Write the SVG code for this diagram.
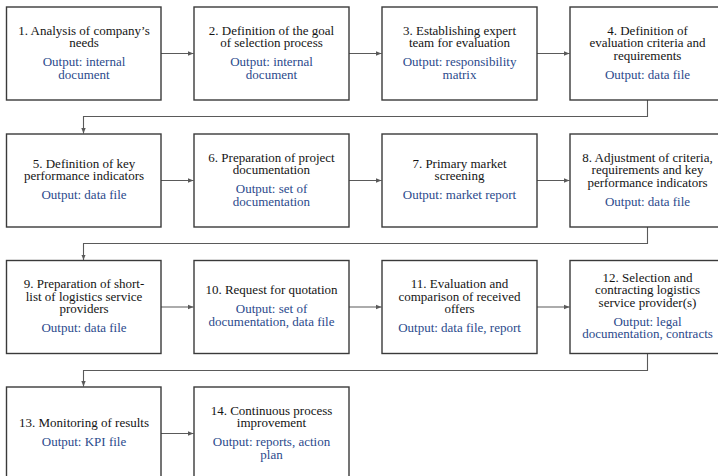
<svg xmlns="http://www.w3.org/2000/svg" width="718" height="476" viewBox="0 0 718 476">
<style>
.box{fill:#fff;stroke:#3a3a3a;stroke-width:1.4}
.t{font-family:"Liberation Serif","Times New Roman",serif;font-size:13px;text-anchor:middle;fill:#141414}
.o{fill:#2b4a8c}
.c{fill:none;stroke:#5a5a5a;stroke-width:1.1}
</style>
<defs>
<marker id="ah" markerWidth="6" markerHeight="6" refX="5.5" refY="3" orient="auto" markerUnits="userSpaceOnUse">
<path d="M0,0.8 L5.5,3 L0,5.2 z" fill="#5a5a5a"/>
</marker>
</defs>
<rect width="718" height="476" fill="#fff"/>
<g id="connectors">
<path class="c" d="M161,53.5 H193.5" marker-end="url(#ah)"/>
<path class="c" d="M349,53.5 H381.5" marker-end="url(#ah)"/>
<path class="c" d="M537,53.5 H569.5" marker-end="url(#ah)"/>
<path class="c" d="M647.5,100 V116.5 H83.5 V133.5" marker-end="url(#ah)"/>
<path class="c" d="M161,180.5 H193.5" marker-end="url(#ah)"/>
<path class="c" d="M349,180.5 H381.5" marker-end="url(#ah)"/>
<path class="c" d="M537,180.5 H569.5" marker-end="url(#ah)"/>
<path class="c" d="M647.5,227 V243.5 H83.5 V260" marker-end="url(#ah)"/>
<path class="c" d="M161,307 H193.5" marker-end="url(#ah)"/>
<path class="c" d="M349,307 H381.5" marker-end="url(#ah)"/>
<path class="c" d="M537,307 H569.5" marker-end="url(#ah)"/>
<path class="c" d="M647.5,353.5 V370.5 H83.5 V386.5" marker-end="url(#ah)"/>
<path class="c" d="M161,433.5 H193.5" marker-end="url(#ah)"/>
</g>
<g id="n1"><rect class="box" x="6.5" y="7" width="154.5" height="93"/>
<text class="t" x="84"><tspan x="84" y="34.5">1. Analysis of company’s</tspan><tspan x="84" y="47">needs</tspan><tspan class="o" x="84" y="66">Output: internal</tspan><tspan class="o" x="84" y="78.5">document</tspan></text></g>
<g id="n2"><rect class="box" x="194" y="7" width="155" height="93"/>
<text class="t" x="271.5"><tspan x="271.5" y="34.5">2. Definition of the goal</tspan><tspan x="271.5" y="47">of selection process</tspan><tspan class="o" x="271.5" y="66">Output: internal</tspan><tspan class="o" x="271.5" y="78.5">document</tspan></text></g>
<g id="n3"><rect class="box" x="382" y="7" width="155" height="93"/>
<text class="t"><tspan x="459.5" y="34.5">3. Establishing expert</tspan><tspan x="459.5" y="47">team for evaluation</tspan><tspan class="o" x="459.5" y="66">Output: responsibility</tspan><tspan class="o" x="459.5" y="78.5">matrix</tspan></text></g>
<g id="n4"><rect class="box" x="570" y="7" width="155" height="93"/>
<text class="t"><tspan x="647.5" y="34.5">4. Definition of</tspan><tspan x="647.5" y="47">evaluation criteria and</tspan><tspan x="647.5" y="59.5">requirements</tspan><tspan class="o" x="647.5" y="78.5">Output: data file</tspan></text></g>
<g id="n5"><rect class="box" x="6.5" y="134" width="154.5" height="93"/>
<text class="t"><tspan x="84" y="167.75">5. Definition of key</tspan><tspan x="84" y="180.25">performance indicators</tspan><tspan class="o" x="84" y="199.25">Output: data file</tspan></text></g>
<g id="n6"><rect class="box" x="194" y="134" width="155" height="93"/>
<text class="t"><tspan x="271.5" y="161.5">6. Preparation of project</tspan><tspan x="271.5" y="174">documentation</tspan><tspan class="o" x="271.5" y="193">Output: set of</tspan><tspan class="o" x="271.5" y="205.5">documentation</tspan></text></g>
<g id="n7"><rect class="box" x="382" y="134" width="155" height="93"/>
<text class="t"><tspan x="459.5" y="167.75">7. Primary market</tspan><tspan x="459.5" y="180.25">screening</tspan><tspan class="o" x="459.5" y="199.25">Output: market report</tspan></text></g>
<g id="n8"><rect class="box" x="570" y="134" width="155" height="93"/>
<text class="t"><tspan x="647.5" y="161.5">8. Adjustment of criteria,</tspan><tspan x="647.5" y="174">requirements and key</tspan><tspan x="647.5" y="186.5">performance indicators</tspan><tspan class="o" x="647.5" y="205.5">Output: data file</tspan></text></g>
<g id="n9"><rect class="box" x="6.5" y="260.5" width="154.5" height="93"/>
<text class="t"><tspan x="84" y="288">9. Preparation of short-</tspan><tspan x="84" y="300.5">list of logistics service</tspan><tspan x="84" y="313">providers</tspan><tspan class="o" x="84" y="332">Output: data file</tspan></text></g>
<g id="n10"><rect class="box" x="194" y="260.5" width="155" height="93"/>
<text class="t"><tspan x="271.5" y="294.25">10. Request for quotation</tspan><tspan class="o" x="271.5" y="313.25">Output: set of</tspan><tspan class="o" x="271.5" y="325.75">documentation, data file</tspan></text></g>
<g id="n11"><rect class="box" x="382" y="260.5" width="155" height="93"/>
<text class="t"><tspan x="459.5" y="288">11. Evaluation and</tspan><tspan x="459.5" y="300.5">comparison of received</tspan><tspan x="459.5" y="313">offers</tspan><tspan class="o" x="459.5" y="332">Output: data file, report</tspan></text></g>
<g id="n12"><rect class="box" x="570" y="260.5" width="155" height="93"/>
<text class="t"><tspan x="647.5" y="281.75">12. Selection and</tspan><tspan x="647.5" y="294.25">contracting logistics</tspan><tspan x="647.5" y="306.75">service provider(s)</tspan><tspan class="o" x="647.5" y="325.75">Output: legal</tspan><tspan class="o" x="647.5" y="338.25">documentation, contracts</tspan></text></g>
<g id="n13"><rect class="box" x="6.5" y="387" width="154.5" height="93"/>
<text class="t"><tspan x="84" y="427">13. Monitoring of results</tspan><tspan class="o" x="84" y="446">Output: KPI file</tspan></text></g>
<g id="n14"><rect class="box" x="194" y="387" width="155" height="93"/>
<text class="t"><tspan x="271.5" y="414.5">14. Continuous process</tspan><tspan x="271.5" y="427">improvement</tspan><tspan class="o" x="271.5" y="446">Output: reports, action</tspan><tspan class="o" x="271.5" y="458.5">plan</tspan></text></g>
</svg>
